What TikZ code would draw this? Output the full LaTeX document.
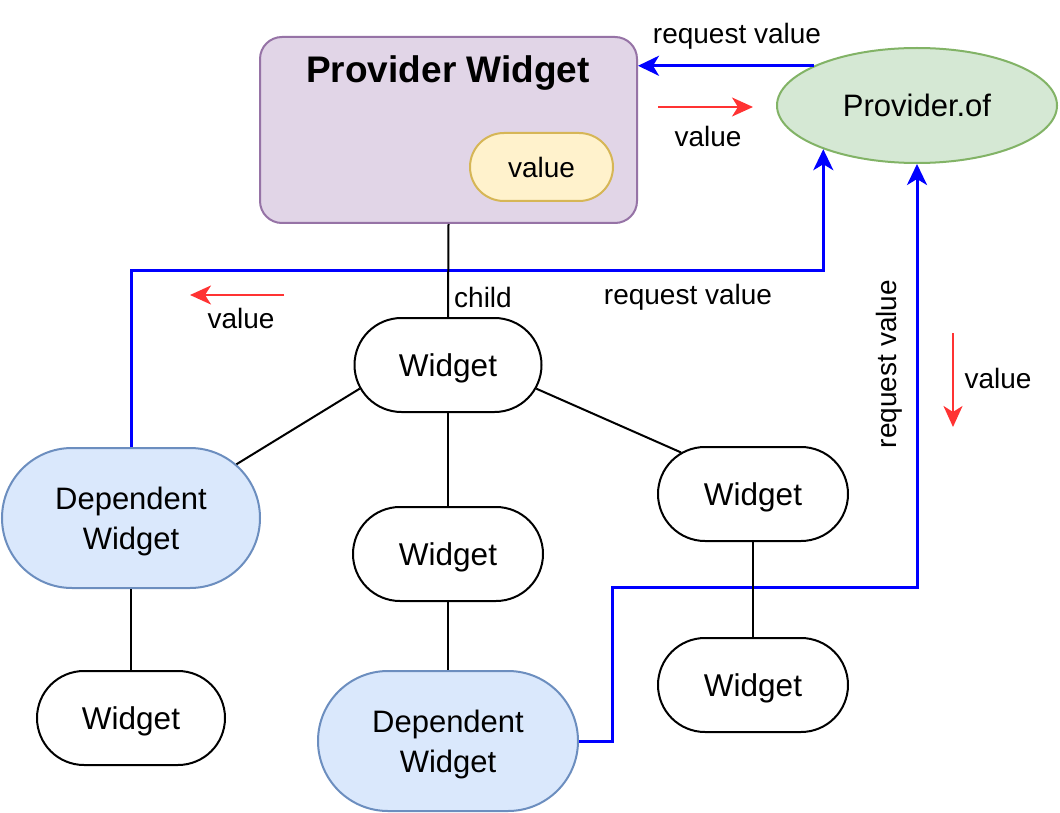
\documentclass[tikz,border=0pt]{standalone}
\usepackage{fontspec}
\setmainfont{Liberation Sans}
\usetikzlibrary{arrows.meta,shapes.misc,shapes.geometric}
\definecolor{pwfill}{HTML}{E1D5E7}
\definecolor{pwline}{HTML}{9673A6}
\definecolor{valfill}{HTML}{FFF2CC}
\definecolor{valline}{HTML}{D6B656}
\definecolor{pofill}{HTML}{D5E8D4}
\definecolor{poline}{HTML}{82B366}
\definecolor{depfill}{HTML}{DAE8FC}
\definecolor{depline}{HTML}{6C8EBF}
\definecolor{reqblue}{HTML}{0000FF}
\definecolor{valred}{HTML}{FF3333}
\begin{document}
\begin{tikzpicture}[x=1pt,y=-1pt,
  lbl/.style={font=\fontsize{28}{34}\selectfont, inner sep=0pt},
  wid/.style={rounded rectangle, draw=black, fill=white, line width=2pt,
    minimum height=94pt, minimum width=#1, inner sep=0pt, text depth=0pt,
    font=\fontsize{31.5}{40}\selectfont, align=center},
  wid/.default=188pt,
  dep/.style={rounded rectangle, draw=depline, fill=depfill, line width=2pt,
    minimum height=140pt, minimum width=#1, inner sep=0pt, text depth=0pt,
    font=\fontsize{31}{40}\selectfont, align=center},
  link/.style={draw=black, line width=2pt},
  req/.style={draw=reqblue, line width=3pt, -{Stealth[length=21pt,width=20pt,inset=6pt]}},
  valarrow/.style={draw=valred, line width=2.2pt, -{Stealth[length=21pt,width=19pt,inset=6pt]}}
]
\fill[white] (0,0) rectangle (1060,813);
\useasboundingbox (0,0) rectangle (1060,813);

% Provider widget
\node[draw=pwline, fill=pwfill, line width=2pt, rounded corners=22pt,
  minimum width=377pt, minimum height=186pt, inner sep=0pt] (pw) at (448.5,130) {};
\node[font=\bfseries\fontsize{37}{44}\selectfont, inner sep=0pt] (pwtitle) at (448,73) {Provider Widget};
\node[rounded rectangle, draw=valline, fill=valfill, line width=2pt,
  minimum width=143pt, minimum height=68pt, inner sep=0pt,
  font=\fontsize{28}{34}\selectfont] (pval) at (541.5,167) {value};

% Provider.of
\node[ellipse, draw=poline, fill=pofill, line width=2pt,
  minimum width=280pt, minimum height=115pt, inner sep=0pt,
  font=\fontsize{31}{40}\selectfont] (pof) at (917,105.5) {Provider.of};

% Widgets
\node[wid=187pt] (w1) at (448,365) {Widget};
\node[dep=258pt] (dl) at (131,518) {Dependent\\Widget};
\node[wid=188pt] (w2) at (131,718) {Widget};
\node[wid=190pt] (w3) at (448,554) {Widget};
\node[dep=260pt] (db) at (448,741) {Dependent\\Widget};
\node[wid=190pt] (w4) at (753,494) {Widget};
\node[wid=190pt] (w5) at (753,685) {Widget};

% blue request connectors
\draw[req] (pof.159) -- (pof.159 -| pw.east);
\coordinate (j1) at (131,270);
\draw[req] (dl.north) -- (j1) -| (pof.205);
\coordinate (j2) at (612,587);
\draw[req] (db.east) -| (j2) -| (pof.south);

% tree connectors
\draw[link] (pw.south) -- (w1.north);
\draw[link] (w1.195) -- (dl.27);
\draw[link] (w1.south) -- (w3.north);
\draw[link] (w1.345) -- (w4.150);
\draw[link] (dl.south) -- (w2.north);
\draw[link] (w3.south) -- (db.north);
\draw[link] (w4.south) -- (w5.north);

% red value arrows
\coordinate (r1a) at (658,107);
\coordinate (r1b) at (753,107);
\draw[valarrow] (r1a) -- (r1b);
\coordinate (r2a) at (284,295);
\coordinate (r2b) at (190,295);
\draw[valarrow] (r2a) -- (r2b);
\coordinate (r3a) at (953,333);
\coordinate (r3b) at (953,427);
\draw[valarrow] (r3a) -- (r3b);

% labels
\node[lbl] (l1) at (737,36) {request value};
\node[lbl] (l2) at (708,136) {value};
\node[lbl] (l3) at (688,297) {request value};
\node[lbl] (l4) at (241,318) {value};
\node[lbl, rotate=90] (l5) at (889,364) {request value};
\node[lbl] (l6) at (998,378) {value};
\node[lbl] (l7) at (483,297) {child};
\end{tikzpicture}
\end{document}
